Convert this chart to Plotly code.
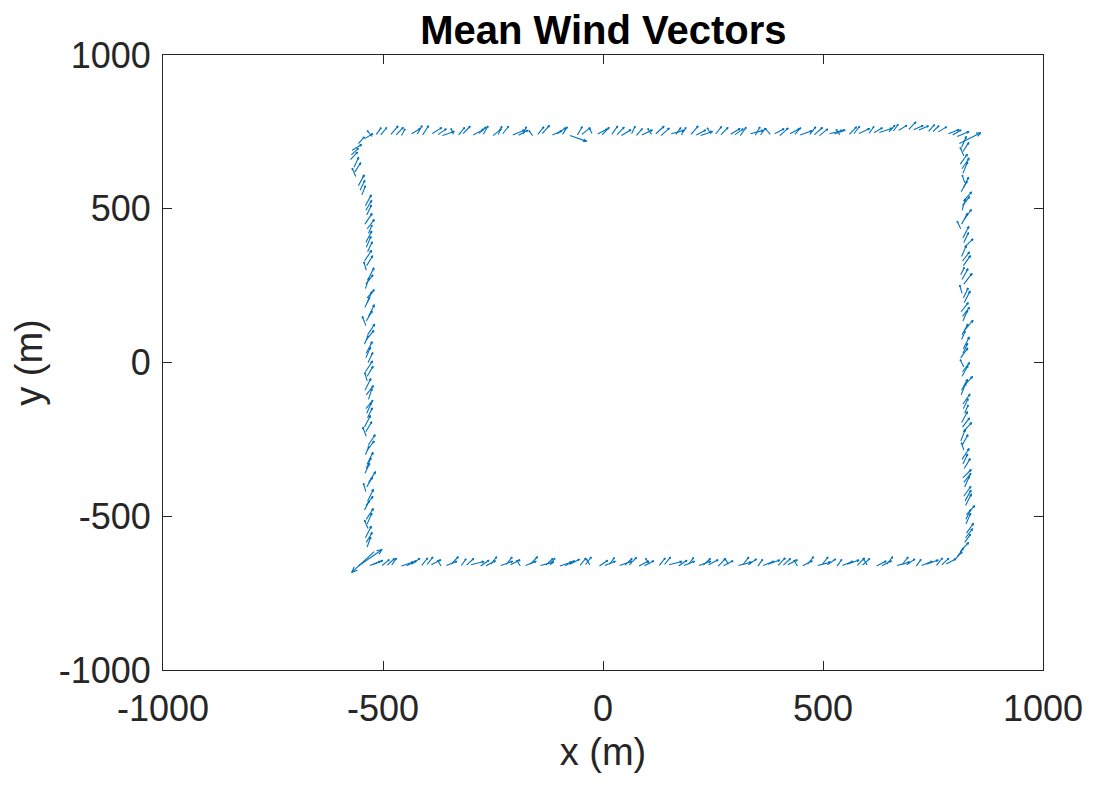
import math
import plotly.graph_objects as go

# ---- data: (x, y, u, v) in metres ----
top_vectors = [
    (-525, 735, -8, 14), (-505, 740, 10, 18), (-482, 742, 12, 20), (-458, 738, 6, 16),
    (-435, 744, 14, 12), (-410, 740, 10, 22), (-388, 745, 16, 14), (-365, 738, 20, 10),
    (-340, 742, -4, 14), (-318, 744, 12, 18), (-295, 740, 18, 14), (-272, 742, 8, 20),
    (-250, 738, 14, 16), (-228, 744, 10, 18), (-205, 740, 20, 12), (-182, 742, 6, 18),
    (-160, 738, -6, 12), (-138, 744, 12, 20), (-115, 740, 16, 10), (-92, 742, 8, 18),
    (-75, 738, 28, -14), (-48, 742, 14, 16), (-25, 745, -4, 12), (-2, 740, 12, 18),
    (20, 742, 10, 20), (42, 738, 16, 14), (65, 744, 6, 18), (88, 740, 18, 12),
    (110, 742, -6, 14), (132, 738, 14, 18), (155, 744, 22, 8), (178, 740, 8, 18),
    (200, 742, 12, 20), (222, 738, 20, 10), (245, 744, -6, 14), (268, 740, 12, 18),
    (290, 742, 16, 14), (312, 738, 10, 20), (335, 744, 22, 8), (358, 740, 8, 16),
    (380, 742, -8, 14), (402, 738, 14, 18), (425, 744, 16, 12), (448, 740, 20, 10),
    (470, 742, 10, 18), (492, 738, 14, 16), (515, 744, 22, 8), (538, 740, -6, 14),
    (560, 742, 12, 18), (582, 745, 18, 12), (605, 746, 8, 16), (628, 748, 22, 10),
    (650, 750, 10, 16), (672, 755, 14, 12), (695, 758, 12, 18), (718, 756, 16, 10),
    (740, 752, 10, 16), (762, 750, 14, 12), (785, 744, 18, 10), (805, 735, 20, 12),
]
top_vectors_lap2 = [
    (-515, 742, 8, 16), (-470, 740, 12, 18), (-422, 743, 8, 20), (-375, 741, 14, 14),
    (-328, 740, 10, 18), (-282, 744, 12, 16), (-238, 741, 6, 20), (-192, 739, 16, 12),
    (-148, 742, 10, 18), (-104, 744, 14, 14), (-58, 740, 8, 20), (-12, 743, 16, 12),
    (32, 741, 12, 18), (76, 739, 10, 16), (120, 744, 14, 18), (166, 742, 8, 16),
    (212, 740, 16, 12), (256, 743, 10, 18), (300, 741, 14, 14), (346, 739, 8, 20),
    (390, 744, 16, 12), (436, 742, 10, 16), (480, 740, 14, 18), (526, 743, 18, 10),
    (570, 744, 10, 18), (616, 747, 14, 12), (660, 753, 8, 16), (706, 757, 16, 10),
    (750, 751, 10, 14), (795, 740, 14, 12),
]

right_vectors = [
    (815, 700, 8, 26), (820, 672, -6, 20), (812, 645, 12, 24), (818, 615, 8, 28),
    (822, 585, -4, 18), (814, 555, 10, 26), (819, 525, 14, 22), (816, 495, 6, 28),
    (821, 465, 12, 24), (813, 435, -6, 18), (818, 405, 10, 28), (822, 375, 14, 20),
    (815, 345, 8, 26), (819, 315, 12, 24), (813, 285, 6, 18), (820, 255, 14, 26),
    (816, 225, -4, 20), (821, 195, 10, 28), (814, 165, 12, 22), (818, 135, 8, 26),
    (822, 105, 14, 24), (815, 75, 6, 20), (819, 45, 10, 28), (813, 15, 12, 24),
    (820, -15, -6, 18), (816, -45, 10, 26), (821, -75, 14, 22), (814, -105, 8, 28),
    (818, -135, 12, 24), (822, -165, 6, 20), (815, -195, 10, 26), (819, -225, 14, 22),
    (813, -255, 8, 28), (820, -285, -4, 18), (816, -315, 12, 26), (821, -345, 10, 24),
    (818, -375, 14, 20), (822, -405, 8, 26), (820, -435, 12, 24), (824, -465, 10, 28),
    (826, -495, 14, 22), (825, -525, 8, 26), (826, -555, 12, 24), (822, -585, 10, 20),
    (812, -615, 14, 22), (800, -640, 12, 18),
]
right_vectors_lap2 = [
    (818, 686, 10, 22), (816, 630, 12, 26), (820, 570, 8, 24), (817, 510, 12, 22),
    (815, 450, 10, 26), (820, 390, 8, 24), (817, 330, 12, 22), (816, 270, 10, 26),
    (819, 210, 8, 24), (817, 150, 12, 22), (816, 90, 10, 26), (818, 30, 8, 24),
    (817, -30, 12, 22), (815, -90, 10, 26), (819, -150, 8, 24), (817, -210, 12, 22),
    (816, -270, 10, 26), (818, -330, 8, 24), (820, -390, 12, 22), (823, -450, 10, 26),
    (825, -510, 8, 24), (824, -570, 12, 22), (806, -630, 10, 20),
]

bottom_vectors = [
    (780, -655, 16, 12), (758, -660, 10, 18), (735, -656, 20, 10), (712, -662, 8, 16),
    (690, -658, 14, 14), (668, -660, 22, 8), (645, -656, 10, 18), (622, -662, 16, 12),
    (600, -658, -6, 14), (578, -660, 12, 18), (555, -656, 20, 10), (532, -662, 8, 16),
    (510, -658, 14, 14), (488, -660, 22, 8), (465, -656, 10, 18), (442, -662, -6, 14),
    (420, -658, 16, 12), (398, -660, 12, 18), (375, -656, 20, 10), (352, -662, 8, 16),
    (330, -658, 14, 14), (308, -660, 22, 8), (285, -656, -6, 14), (262, -662, 12, 18),
    (240, -658, 16, 12), (218, -660, 20, 10), (195, -656, 8, 16), (172, -662, 14, 14),
    (150, -658, 22, 8), (128, -660, 10, 18), (105, -656, -6, 14), (82, -662, 16, 12),
    (60, -658, 12, 18), (38, -660, 20, 10), (15, -656, 8, 16), (-8, -662, 14, 14),
    (-30, -658, -6, 14), (-52, -660, 10, 18), (-75, -656, 16, 12), (-98, -662, 20, 10),
    (-120, -658, 8, 16), (-142, -660, 22, 8), (-165, -656, 12, 18), (-188, -662, -6, 14),
    (-210, -658, 16, 12), (-232, -660, 20, 10), (-255, -656, 10, 18), (-278, -662, 14, 14),
    (-300, -658, 22, 8), (-322, -660, 8, 16), (-345, -656, 12, 18), (-368, -662, -6, 14),
    (-390, -658, 16, 12), (-412, -660, 10, 18), (-435, -656, 14, 14), (-458, -662, 20, 10),
    (-480, -658, 8, 16), (-502, -660, 12, 14), (-522, -657, 16, 10),
]
bottom_vectors_lap2 = [
    (770, -658, 12, 16), (724, -660, 18, 10), (680, -657, 10, 18), (634, -661, 16, 12),
    (590, -659, 12, 16), (544, -660, 18, 10), (498, -657, 10, 18), (454, -661, 16, 12),
    (410, -659, 12, 16), (364, -660, 18, 10), (318, -657, 10, 18), (274, -661, 16, 12),
    (228, -659, 12, 16), (184, -660, 18, 10), (140, -657, 10, 18), (94, -661, 16, 12),
    (50, -659, 12, 16), (4, -660, 18, 10), (-40, -657, 10, 18), (-86, -661, 16, 12),
    (-130, -659, 12, 16), (-176, -660, 18, 10), (-220, -657, 10, 18), (-266, -661, 16, 12),
    (-310, -659, 12, 16), (-356, -660, 18, 10), (-400, -657, 10, 18), (-446, -661, 16, 12),
    (-490, -659, 12, 16), (-530, -660, 18, 10),
]

left_vectors = [
    (-536, -600, 6, 24), (-540, -570, 10, 28), (-534, -540, -6, 20), (-538, -510, 12, 26),
    (-542, -480, 8, 22), (-535, -450, 10, 28), (-539, -420, -4, 20), (-533, -390, 12, 26),
    (-541, -360, 8, 24), (-536, -330, 10, 28), (-540, -300, 6, 20), (-534, -270, 12, 26),
    (-538, -240, -6, 22), (-542, -210, 10, 28), (-535, -180, 8, 24), (-539, -150, 12, 20),
    (-533, -120, 6, 26), (-541, -90, 10, 28), (-536, -60, -4, 20), (-540, -30, 12, 26),
    (-534, 0, 8, 24), (-538, 30, 10, 28), (-542, 60, 6, 20), (-535, 90, 12, 26),
    (-539, 120, -6, 22), (-533, 150, 10, 28), (-541, 180, 8, 24), (-536, 210, 12, 20),
    (-540, 240, 6, 26), (-534, 270, 10, 28), (-538, 300, -4, 20), (-542, 330, 12, 26),
    (-535, 360, 8, 24), (-539, 390, 10, 28), (-533, 420, 6, 20), (-541, 450, 12, 26),
    (-537, 480, 8, 24), (-540, 510, 10, 26), (-548, 545, 6, 22), (-556, 575, 10, 26),
    (-562, 605, -6, 20), (-566, 635, 8, 24), (-574, 660, 12, 18), (-570, 690, 16, 14),
    (-556, 712, 10, 16), (-542, 728, 14, 12),
]
left_vectors_lap2 = [
    (-538, -585, 10, 24), (-536, -525, 8, 26), (-539, -465, 12, 22), (-537, -405, 10, 24),
    (-538, -345, 8, 26), (-536, -285, 12, 22), (-539, -225, 10, 24), (-537, -165, 8, 26),
    (-538, -105, 12, 22), (-536, -45, 10, 24), (-539, 15, 8, 26), (-537, 75, 12, 22),
    (-538, 135, 10, 24), (-536, 195, 8, 26), (-539, 255, 12, 22), (-537, 315, 10, 24),
    (-538, 375, 8, 26), (-536, 435, 12, 22), (-539, 495, 10, 24), (-552, 560, 8, 24),
    (-564, 620, 10, 22), (-572, 675, 12, 16),
]

corner_vectors = [
    (-520, -615, -38, -50), (-556, -662, 40, 40), (810, 712, 36, 26),
]

QUIVER_SCALE = 1.35  # drawing scale applied to every vector (like quiver AutoScaleFactor)
HEAD_FRAC = 0.2
BLUE = "#0072BD"
PX_X = 880 / 2000.0   # plot px per metre (x)
PX_Y = 615 / 2000.0   # plot px per metre (y)


def build(vectors):
    xs, ys = [], []
    for (x, y, u, v) in vectors:
        u, v = u * QUIVER_SCALE, v * QUIVER_SCALE
        x2, y2 = x + u, y + v
        xs += [x, x2, None]
        ys += [y, y2, None]
        dxp, dyp = u * PX_X, v * PX_Y
        L = math.hypot(dxp, dyp)
        if L == 0:
            continue
        h = HEAD_FRAC * L
        ang = math.atan2(dyp, dxp)
        for s in (1, -1):
            a = ang + math.pi + s * math.radians(22)
            hx = x2 + h * math.cos(a) / PX_X
            hy = y2 + h * math.sin(a) / PX_Y
            xs += [x2, hx, None]
            ys += [y2, hy, None]
    return xs, ys


fig = go.Figure()
for vecs in (top_vectors, top_vectors_lap2, right_vectors, right_vectors_lap2,
             bottom_vectors, bottom_vectors_lap2, left_vectors, left_vectors_lap2,
             corner_vectors):
    xs, ys = build(vecs)
    fig.add_trace(go.Scatter(x=xs, y=ys, mode="lines",
                             line=dict(color=BLUE, width=1.1),
                             hoverinfo="skip", showlegend=False))

FONT = "Liberation Sans, Arial, sans-serif"
axis_common = dict(
    showgrid=False, zeroline=False, showline=True, linecolor="#262626", linewidth=1,
    mirror="ticks", ticks="inside", ticklen=9, tickcolor="#262626", tickwidth=1,
    tickfont=dict(family=FONT, size=36, color="#262626"),
)

fig.update_layout(
    width=1094, height=786,
    margin=dict(l=155, r=59, t=47, b=124),
    paper_bgcolor="white", plot_bgcolor="white",
    title=dict(text="<b>Mean Wind Vectors</b>", x=0.5442, xanchor="center",
               y=0.972, yanchor="middle",
               font=dict(family=FONT, size=40, color="black")),
    xaxis=dict(range=[-1000, 1000], tickvals=[-1000, -500, 0, 500, 1000],
               ticktext=["-1000", "-500", "0", "500", "1000"],
               ticklabelstandoff=7,
               title=dict(text="x (m)", font=dict(family=FONT, size=38, color="#262626"),
                          standoff=10),
               **axis_common),
    yaxis=dict(range=[-1000, 1000], tickvals=[-1000, -500, 0, 500, 1000],
               ticktext=["-1000", "-500", "0", "500", "1000"],
               ticklabelstandoff=4,
               title=dict(text="y (m)", font=dict(family=FONT, size=38, color="#262626"),
                          standoff=8),
               **axis_common),
)

fig.write_html("out.html")
